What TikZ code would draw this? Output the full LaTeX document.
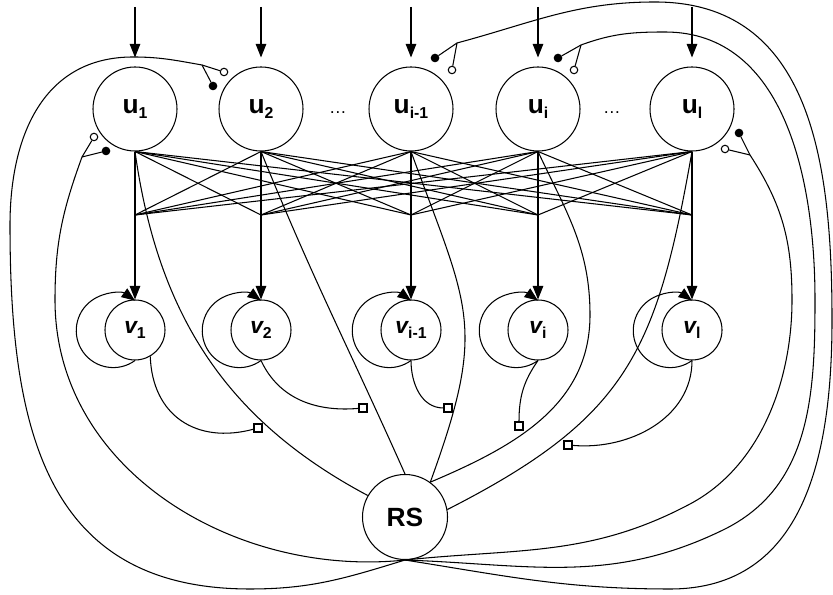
\documentclass[tikz,border=0pt]{standalone}
\usepackage{fontspec}
\setmainfont{Liberation Sans}
\usepackage{tikz}
\usetikzlibrary{arrows.meta,positioning,calc}

\newcommand{\lsub}[1]{\raisebox{-0.4ex}{\fontsize{9}{10}\selectfont\upshape #1}}

\tikzset{
    >={Triangle[length=0.27cm,width=0.21cm]},
    unode/.style={circle, draw, minimum size=1.68cm, inner sep=0pt, font=\fontsize{15}{17}\selectfont\bfseries},
    vnode/.style={circle, draw, minimum size=1.2cm, inner sep=0pt, font=\fontsize{13}{15}\selectfont\bfseries\itshape},
    opendot/.style={circle, draw, fill=white, minimum size=0.15cm, inner sep=0pt},
    filldot/.style={circle, draw, fill=black, minimum size=0.15cm, inner sep=0pt},
    gate/.style={rectangle, draw, fill=white, minimum size=0.16cm, inner sep=0pt}
}

\begin{document}
\begin{tikzpicture}[line width=0.6pt]
    \useasboundingbox (0,0) rectangle (16.66,11.9);

    % input units
    \node (u1) at (2.70,9.72) [unode] {u\lsub{1}};
    \node (u2) at (5.22,9.72) [unode] {u\lsub{2}};
    \node (u3) at (8.22,9.72) [unode] {u\lsub{i-1}};
    \node (u4) at (10.76,9.72) [unode] {u\lsub{i}};
    \node (u5) at (13.84,9.72) [unode] {u\lsub{l}};
    \node (dotsA) at (6.76,9.64) {\ldots};
    \node (dotsB) at (12.24,9.64) {\ldots};

    % output units
    \node (v1) at (2.70,5.30) [vnode] {v\lsub{1}};
    \node (v2) at (5.22,5.30) [vnode] {v\lsub{2}};
    \node (v3) at (8.22,5.30) [vnode] {v\lsub{i-1}};
    \node (v4) at (10.76,5.30) [vnode] {v\lsub{i}};
    \node (v5) at (13.84,5.30) [vnode] {v\lsub{l}};

    \node (RS) at (8.10,1.56) [unode, minimum size=1.70cm] {RS};

    % inputs and junctions
    \foreach \n/\x in {1/2.70, 2/5.22, 3/8.22, 4/10.76, 5/13.84} {
        \coordinate (in\n) at (\x,11.76);
        \coordinate (J\n) at (\x,7.60);
        \draw[->, shorten >=0.18cm] (in\n) -- (u\n);
        \draw[->] (J\n) -- (v\n);
    }

    % all-to-all
    \foreach \i in {1,...,5}
        \foreach \j in {1,...,5}
            \draw (u\i.south) -- (J\j);

    % self loops
    \foreach \n in {1,...,5}
        \draw[->] (v\n.south) arc[start angle=-54, end angle=-306, radius=0.74];

    % units to RS
    \coordinate (b4) at (11.80,5.60);
    \draw (u1.south) to[out=-82, in=152] (RS.150);
    \draw (u2.south) to[out=-68, in=114] (RS.north);
    \draw (u3.south) to[out=-70, in=70, looseness=1.3] (RS.54);
    \draw (u4.south) to[out=-65, in=90] (b4) to[out=-90, in=23] (RS.54);
    \draw (u5.south) to[out=-100, in=27, looseness=1.2] (RS.10);

    % gates
    \node (s1) at (5.16,3.34) [gate] {};
    \node (s2) at (7.26,3.74) [gate] {};
    \node (s3) at (8.96,3.74) [gate] {};
    \node (s4) at (10.38,3.38) [gate] {};
    \node (s5) at (11.36,3.00) [gate] {};
    \draw (v1.-60) to[out=-88, in=195, looseness=1.2] (s1);
    \draw (v2.south) to[out=-65, in=185] (s2);
    \draw (v3.south) to[out=-90, in=180] (s3);
    \draw (v4.south) to[out=-125, in=90] (s4);
    \draw (v5.south) to[out=-90, in=-5] (s5);

    % feedback from RS
    \coordinate (F1) at (4.04,10.60);
    \coordinate (F2) at (1.64,8.76);
    \coordinate (F3) at (9.14,11.04);
    \coordinate (F4) at (11.62,11.00);
    \coordinate (F5) at (15.00,8.80);
    \node (o1) at (4.48,10.46) [opendot] {};
    \node (d1) at (4.26,10.18) [filldot] {};
    \node (o2) at (1.88,9.16) [opendot] {};
    \node (d2) at (2.12,8.88) [filldot] {};
    \node (o3) at (9.04,10.50) [opendot] {};
    \node (d3) at (8.70,10.74) [filldot] {};
    \node (o4) at (11.48,10.50) [opendot] {};
    \node (d4) at (11.16,10.74) [filldot] {};
    \node (o5) at (14.50,8.92) [opendot] {};
    \node (d5) at (14.78,9.24) [filldot] {};

    \coordinate (La1) at (5.00,0.12);
    \coordinate (La2) at (0.20,7.40);
    \coordinate (La3) at (2.66,10.76);
    \coordinate (Lb1) at (1.10,5.90);
    \coordinate (Ra1) at (13.40,0.12);
    \coordinate (Ra2) at (16.64,5.50);
    \coordinate (Ra3) at (13.10,11.86);
    \coordinate (Rb1) at (14.46,1.30);
    \coordinate (Rb2) at (16.30,5.90);
    \coordinate (Rb3) at (13.30,11.26);
    \coordinate (Rc1) at (13.80,1.82);
    \coordinate (Rc2) at (15.84,5.90);

    \draw (RS.south) to[out=197, in=0] (La1) to[out=180, in=-90, looseness=1.2] (La2)
        to[out=90, in=180, looseness=1.1] (La3) to[out=0, in=170] (F1);
    \draw (RS.south) to[out=186, in=-90] (Lb1) to[out=90, in=-110] (F2);
    \draw (RS.south) to[out=-9, in=180] (Ra1) to[out=0, in=-90, looseness=1.1] (Ra2)
        to[out=90, in=0, looseness=1.1] (Ra3) to[out=180, in=15] (F3);
    \draw (RS.south) to[out=-2, in=206] (Rb1) to[out=26, in=-90] (Rb2)
        to[out=90, in=0] (Rb3) to[out=180, in=20] (F4);
    \draw (RS.south) to[out=6, in=208] (Rc1) to[out=28, in=-90, looseness=0.9] (Rc2)
        to[out=90, in=-57] (F5);

    \foreach \n in {1,...,5} {
        \draw (F\n) -- (o\n);
        \draw (F\n) -- (d\n);
    }
\end{tikzpicture}
\end{document}
